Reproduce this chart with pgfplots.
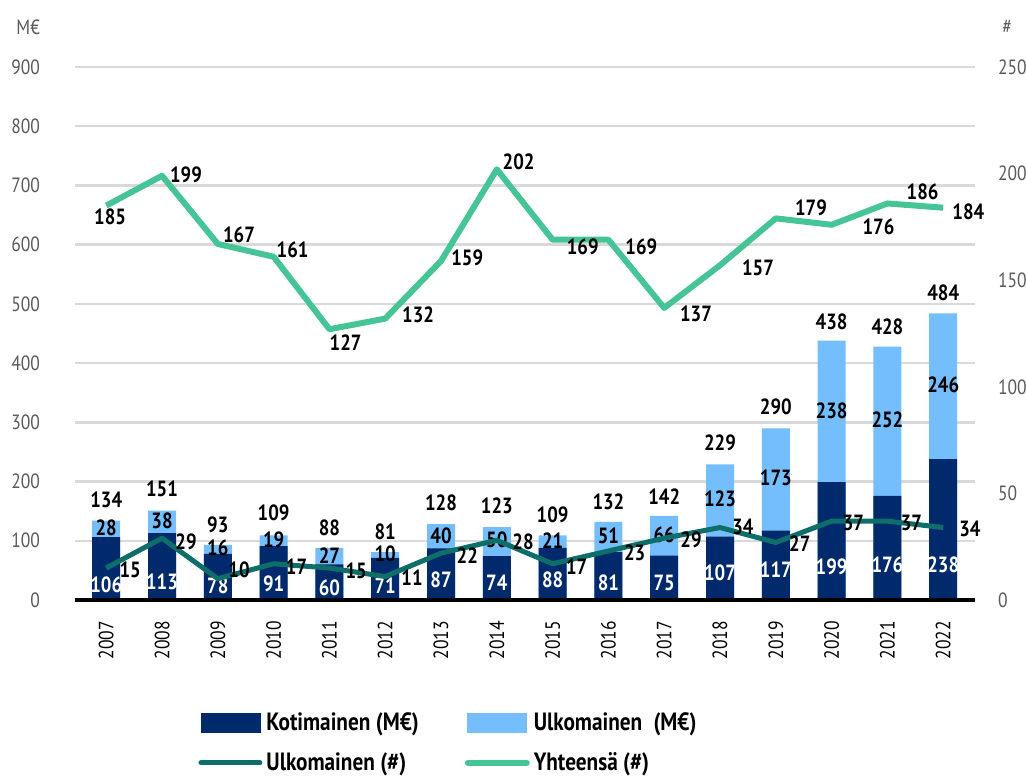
\documentclass[border=0pt]{standalone}
\usepackage{pgfplots}
\pgfplotsset{compat=1.18}
\usepackage{pgfplotstable}
\usepackage{fontspec}
\setmainfont{PT Sans}[FakeStretch=0.85]
\definecolor{navy}{HTML}{002A6C}
\definecolor{lblue}{HTML}{75BEFD}
\definecolor{teal2}{HTML}{0E6E69}
\definecolor{mint}{HTML}{45C495}
\definecolor{gridc}{HTML}{D9D9D9}
\definecolor{tickc}{HTML}{595959}
\newcommand\lblfont{\fontsize{11}{12}\selectfont\bfseries}
\newcommand\tickfont{\fontsize{10.3}{12}\selectfont}
\pgfplotsset{
  base/.style={width=450pt, height=266.5pt, scale only axis,
    xmin=-0.56, xmax=15.57, clip=false,
    axis line style={draw=none}, major tick length=0pt,
    /pgf/number format/assume math mode=true},
  linelegend/.style={legend image code/.code={\draw[##1, line cap=round] (0pt,0pt) -- (29.5pt,0pt);}},
  lbl/.style={draw=none, mark=none, forget plot, nodes near coords,
    point meta=explicit symbolic,
    every node near coord/.append style={anchor=center, font=\lblfont, text=#1}},
}
\pgfplotstableread{
x kot ulk tot kotl ulkl totl
0 106 28 134 25 122 169
1 113 38 151 30 134 187
2 78 16 93 24 88 127
3 91 19 109 27 102.5 147
4 60 27 88 20 75.5 122
5 71 10 81 25 78 115
6 87 40 128 34 109 164
7 74 50 123 29 101 159
8 88 21 109 34 100.5 144
9 81 51 132 29 108.5 166
10 75 66 142 29 110 174
11 107 123 229 46 170.5 265
12 117 173 290 51 205.5 326
13 199 238 438 56 320 470
14 176 252 428 59 304 461
15 238 246 484 59 363 519
}\bardata
\pgfplotstableread{
x ulkn yht ulklx ulkly yhtlx yhtly
0 15 185 0.43 14.1 0.07 179.6
1 29 199 1.43 27.2 1.43 199.3
2 10 167 2.38 14.1 2.38 171.2
3 17 161 3.41 15.5 3.34 164.2
4 15 127 4.48 13.6 4.29 120.5
5 11 132 5.48 10.3 5.59 133.7
6 22 159 6.47 20.6 6.47 160.4
7 28 202 7.47 27.2 7.39 205.4
8 17 169 8.43 15.5 8.54 165.6
9 23 169 9.47 22.0 9.59 165.6
10 29 137 10.48 28.1 10.57 134.1
11 34 157 11.41 34.2 11.68 155.7
12 27 179 12.43 26.3 12.63 183.9
13 37 176 13.39 36.1 13.84 175.0
14 37 186 14.43 36.1 14.63 191.4
15 34 184 15.48 33.3 15.45 182.0
}\linedata
\begin{document}
\begin{tikzpicture}
\begin{axis}[base,
  ymin=0, ymax=900, ytick={0,100,...,900},
  ymajorgrids, grid style={gridc, line width=1.2pt},
  ytick pos=left, yticklabel pos=left,
  yticklabel style={font=\tickfont, text=tickc}, yticklabel shift=14pt,
  xtick={0,...,15},
  xticklabels={2007,2008,2009,2010,2011,2012,2013,2014,2015,2016,2017,2018,2019,2020,2021,2022},
  xticklabel style={rotate=90, anchor=east, font=\tickfont, text=black},
  xticklabel shift=7pt,
]
\addplot[ybar, bar width=14pt, bar shift=0pt, fill=lblue, draw=none, forget plot] table[x=x, y=tot] {\bardata};
\addplot[ybar, bar width=14pt, bar shift=0pt, fill=navy, draw=none, forget plot] table[x=x, y=kot] {\bardata};
\addplot[lbl=white] table[x=x, y=kotl, meta=kot] {\bardata};
\addplot[lbl=black] table[x=x, y=ulkl, meta=ulk] {\bardata};
\addplot[lbl=black] table[x=x, y=totl, meta=tot] {\bardata};
\end{axis}
\begin{axis}[base,
  ymin=0, ymax=250, ytick={0,50,...,250},
  ytick pos=right, yticklabel pos=right,
  yticklabel style={font=\tickfont, text=tickc}, yticklabel shift=8pt,
  xtick=\empty,
  extra y ticks={0}, extra y tick labels={},
  extra y tick style={ymajorgrids=true, major grid style={black, line width=2pt}},
  legend columns=2,
  legend cell align=left,
  legend style={draw=none, fill=none, at={(0.1367,-0.268)}, anchor=west,
    font=\fontsize{12.5}{14}\selectfont\bfseries, inner sep=0pt,
    /tikz/every even column/.append style={column sep=21pt},
    /tikz/row sep=5.5pt},
]
\addlegendimage{legend image code/.code={\fill[navy] (0pt,-4.75pt) rectangle (29.5pt,4.75pt);}}
\addlegendentry{Kotimainen (M€)}
\addlegendimage{legend image code/.code={\fill[lblue] (0pt,-4.75pt) rectangle (29.5pt,4.75pt);}}
\addlegendentry{Ulkomainen\hspace{0.45em}(M€)}
\addplot[teal2, line width=2.5pt, line join=round, mark=none, linelegend] table[x=x, y=ulkn] {\linedata};
\addlegendentry{Ulkomainen (\#)}
\addplot[mint, line width=3pt, line join=round, mark=none, linelegend] table[x=x, y=yht] {\linedata};
\addlegendentry{Yhteensä (\#)}
\addplot[lbl=black] table[x=ulklx, y=ulkly, meta=ulkn] {\linedata};
\addplot[lbl=black] table[x=yhtlx, y=yhtly, meta=yht] {\linedata};
\node[font=\tickfont, text=tickc] at (axis description cs:-0.052,1.075) {M€};
\node[font=\tickfont, text=tickc] at (axis description cs:1.0356,1.075) {\#};
\end{axis}
\pgfresetboundingbox
\path (-37.5pt,-89pt) rectangle (475.5pt,300pt);
\end{tikzpicture}
\end{document}
